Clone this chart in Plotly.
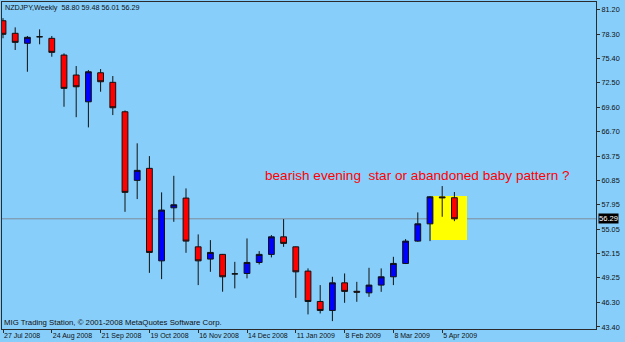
import plotly.graph_objects as go
import pandas as pd

# ---------------- data ----------------
dates = ["2008-07-27", "2008-08-03", "2008-08-10", "2008-08-17", "2008-08-24", "2008-08-31",
         "2008-09-07", "2008-09-14", "2008-09-21", "2008-09-28", "2008-10-05", "2008-10-12",
         "2008-10-19", "2008-10-26", "2008-11-02", "2008-11-09", "2008-11-16", "2008-11-23",
         "2008-11-30", "2008-12-07", "2008-12-14", "2008-12-21", "2008-12-28", "2009-01-04",
         "2009-01-11", "2009-01-18", "2009-01-25", "2009-02-01", "2009-02-08", "2009-02-15",
         "2009-02-22", "2009-03-01", "2009-03-08", "2009-03-15", "2009-03-22", "2009-03-29",
         "2009-04-05", "2009-04-12"]
opens = [79.89, 78.39, 77.20, 77.98, 77.79, 75.80, 73.42, 70.23, 73.69, 72.55, 69.04, 60.87,
         62.30, 51.28, 57.60, 58.76, 52.95, 51.49, 52.05, 49.73, 49.78, 51.09, 52.05, 54.14,
         52.95, 50.06, 46.44, 45.37, 48.66, 47.65, 47.47, 48.39, 49.38, 50.97, 53.63, 55.69,
         58.90, 58.80]
highs = [80.20, 79.10, 78.07, 78.86, 78.07, 76.00, 74.49, 74.01, 74.13, 73.30, 69.20, 65.28,
         63.76, 59.44, 61.41, 59.91, 54.43, 53.75, 52.10, 51.16, 53.95, 52.44, 54.35, 56.25,
         53.00, 50.38, 48.39, 49.38, 49.78, 48.78, 50.45, 50.38, 51.76, 53.87, 57.05, 58.99,
         60.19, 59.48]
lows = [77.80, 76.40, 73.81, 77.08, 75.60, 69.64, 68.40, 67.18, 71.43, 68.65, 57.12, 58.64,
        49.85, 49.10, 55.93, 52.24, 48.39, 49.97, 47.60, 48.00, 49.19, 50.85, 51.69, 52.95,
        46.87, 44.90, 45.01, 44.10, 46.28, 46.40, 46.99, 47.59, 48.39, 50.90, 53.55, 53.63,
        56.53, 56.01]
closes = [78.27, 77.31, 77.91, 77.98, 76.12, 71.83, 72.02, 73.81, 72.62, 69.52, 59.44, 62.06,
          52.28, 57.33, 57.96, 53.63, 51.28, 52.28, 49.38, 49.73, 51.09, 52.05, 54.14, 53.36,
          49.97, 46.44, 45.37, 48.66, 47.64, 47.55, 48.39, 49.38, 50.97, 53.63, 55.69, 58.91,
          58.80, 56.29]

y_ticks = [81.20, 78.30, 75.40, 72.50, 69.60, 66.70, 63.75, 60.85, 57.95, 55.05, 52.15,
           49.25, 46.30, 43.40]
x_tick_dates = ["2008-07-27", "2008-08-24", "2008-09-21", "2008-10-19", "2008-11-16",
                "2008-12-14", "2009-01-11", "2009-02-08", "2009-03-08", "2009-04-05"]
x_tick_labels = ["27 Jul 2008", "24 Aug 2008", "21 Sep 2008", "19 Oct 2008", "16 Nov 2008",
                 "14 Dec 2008", "11 Jan 2009", "8 Feb 2009", "8 Mar 2009", "5 Apr 2009"]

title_text = "NZDJPY,Weekly\u00a0 58.80 59.48 56.01 56.29"
note_text = "bearish evening\u00a0 star or abandoned baby pattern ?"
footer_text = "MIG Trading Station, \u00a9 2001-2008 MetaQuotes Software Corp."
last_price = 56.29
box_low, box_high = 53.75, 59.00
box_start, box_end = "2009-03-29 13:00", "2009-04-19 06:00"

# ---------------- figure ----------------
BG = "#87CEFA"
AX = "#2b2b2b"
FONT = "Liberation Sans, Arial, sans-serif"

fig = go.Figure()
fig.add_trace(go.Candlestick(
    x=pd.to_datetime(dates), open=opens, high=highs, low=lows, close=closes,
    increasing=dict(fillcolor="#0000FF", line=dict(color="#111111", width=1)),
    decreasing=dict(fillcolor="#FF0000", line=dict(color="#111111", width=1)),
    whiskerwidth=0, hoverinfo="skip", showlegend=False,
))

d0 = pd.Timestamp(dates[0])
week = pd.Timedelta(days=7)
x_left = d0 - week * (1.0 / 12.2)
x_right = d0 + week * (593.0 / 12.2)

fig.update_layout(
    width=625, height=342,
    margin=dict(l=2, r=29, t=2, b=13, pad=0),
    paper_bgcolor=BG, plot_bgcolor=BG,
    showlegend=False, hovermode=False,
    boxgap=0.32,
    xaxis=dict(
        type="date", range=[x_left, x_right], rangeslider=dict(visible=False),
        tickvals=pd.to_datetime(x_tick_dates), ticktext=x_tick_labels,
        ticks="outside", ticklen=3, tickcolor=AX, tickwidth=1,
        ticklabelposition="outside right", tickangle=0, automargin=False,
        showgrid=False, zeroline=False,
        showline=True, linecolor=AX, linewidth=1, mirror=True,
        tickfont=dict(family=FONT, size=7, color="#111111"),
    ),
    yaxis=dict(
        side="right", range=[43.16, 82.12], automargin=False,
        tickvals=y_ticks, ticktext=[f"{v:.2f}" for v in y_ticks],
        ticks="outside", ticklen=3, tickcolor=AX, tickwidth=1,
        showgrid=False, zeroline=False,
        showline=True, linecolor=AX, linewidth=1, mirror=True,
        tickfont=dict(family=FONT, size=7.3, color="#111111"),
    ),
    shapes=[
        dict(type="rect", xref="x", yref="y", x0=box_start, x1=box_end,
             y0=box_low, y1=box_high, fillcolor="#FFFF00", line=dict(width=0), layer="below"),
        dict(type="line", xref="paper", yref="y", x0=0, x1=1, y0=last_price, y1=last_price,
             line=dict(color="#7f8c99", width=1), layer="below"),
    ],
    annotations=[
        dict(text=title_text, xref="paper", yref="paper", x=0, y=0.982, xanchor="left",
             yanchor="middle", xshift=1, showarrow=False,
             font=dict(family=FONT, size=7.2, color="#111111")),
        dict(text=footer_text, xref="paper", yref="paper", x=0, y=0.019, xanchor="left",
             yanchor="middle", xshift=0, showarrow=False,
             font=dict(family=FONT, size=7.8, color="#111111")),
        dict(text=note_text, xref="paper", yref="paper", x=0.439, y=0.468, xanchor="left",
             yanchor="middle", showarrow=False,
             font=dict(family=FONT, size=13.6, color="#FF0000")),
        dict(text=f"{last_price:.2f}", xref="paper", yref="y", x=1, y=last_price,
             xanchor="left", yanchor="middle", xshift=2, showarrow=False,
             bgcolor="#000000", borderpad=0,
             font=dict(family=FONT, size=7.6, color="#FFFFFF")),
    ],
)

fig.write_html("out.html")
